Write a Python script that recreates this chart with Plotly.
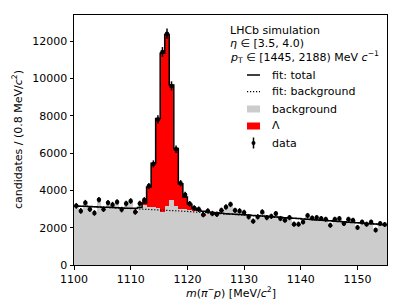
import numpy as np
import plotly.graph_objects as go

# ---- binning ----
bin_low = 1100.0
bin_width = 0.8
n_bins = 69

# ---- data ----
data_counts = [3170, 2900, 3340, 2990, 2790, 3500, 2990, 3340, 3235, 3380,
               2970, 3290, 3430, 2845, 3290, 3480, 4230, 5420, 7800, 11420,
               12400, 9600, 6200, 4380, 3760, 3280, 3060, 2990, 2700, 2900,
               2760, 2720, 2930, 3110, 3250, 2930, 2900, 2810, 2580, 2350,
               2580, 2845, 2540, 2610, 2755, 2490, 2400, 2540, 2190, 2190,
               2310, 2650, 2520, 2540, 2490, 2450, 2130, 2450, 2490, 2220,
               2450, 2400, 2010, 2310, 2190, 2310, 1870, 2220, 2170]
data_errors = [150, 150, 150, 150, 150, 150, 150, 150, 150, 150,
               150, 150, 150, 150, 150, 155, 170, 190, 220, 260,
               275, 245, 200, 170, 160, 150, 148, 146, 145, 145,
               145, 145, 145, 145, 145, 145, 145, 145, 142, 140,
               142, 142, 140, 140, 140, 140, 140, 140, 138, 138,
               138, 140, 138, 138, 138, 138, 135, 138, 138, 135,
               138, 138, 135, 135, 135, 135, 132, 135, 135]
bkg_counts = [3170, 2900, 3340, 2990, 2790, 3500, 2990, 3340, 3235, 3380,
              2970, 3290, 3430, 2835, 3250, 3200, 3120, 3100, 3030, 2860,
              3150, 3480, 3180, 3000, 2980, 2950, 2900, 2880, 2650, 2850,
              2720, 2690, 2910, 3090, 3250, 2930, 2900, 2810, 2580, 2350,
              2580, 2845, 2540, 2610, 2755, 2490, 2400, 2540, 2190, 2190,
              2310, 2650, 2520, 2540, 2490, 2450, 2130, 2450, 2490, 2220,
              2450, 2400, 2010, 2310, 2190, 2310, 1870, 2220, 2170]
sig_counts = [0, 0, 0, 0, 0, 0, 0, 0, 0, 0,
              0, 0, 0, 10, 40, 280, 1110, 2320, 4770, 8560,
              9250, 6120, 3020, 1380, 780, 330, 160, 110, 50, 50,
              40, 30, 20, 20, 0, 0, 0, 0, 0, 0,
              0, 0, 0, 0, 0, 0, 0, 0, 0, 0,
              0, 0, 0, 0, 0, 0, 0, 0, 0, 0,
              0, 0, 0, 0, 0, 0, 0, 0, 0]
fit_bkg = [3165, 3155, 3144, 3133, 3122, 3112, 3101, 3090, 3080, 3069,
           3058, 3048, 3037, 3026, 3016, 3005, 2991, 2977, 2963, 2948,
           2934, 2920, 2906, 2892, 2877, 2863, 2849, 2835, 2821, 2806,
           2792, 2778, 2764, 2750, 2735, 2721, 2707, 2693, 2676, 2659,
           2641, 2624, 2607, 2590, 2573, 2555, 2538, 2521, 2504, 2487,
           2469, 2452, 2435, 2418, 2401, 2383, 2366, 2349, 2332, 2315,
           2297, 2280, 2263, 2246, 2229, 2211, 2194, 2177, 2160]
fit_total = [3165, 3155, 3144, 3133, 3122, 3112, 3101, 3090, 3080, 3069,
             3058, 3048, 3037, 3040, 3080, 3320, 4180, 5450, 7850, 11350,
             12350, 9650, 6250, 4350, 3650, 3250, 3040, 2930, 2875, 2840,
             2815, 2795, 2775, 2750, 2735, 2721, 2707, 2693, 2676, 2659,
             2641, 2624, 2607, 2590, 2573, 2555, 2538, 2521, 2504, 2487,
             2469, 2452, 2435, 2418, 2401, 2383, 2366, 2349, 2332, 2315,
             2297, 2280, 2263, 2246, 2229, 2211, 2194, 2177, 2160]

x_ticks = [1100, 1110, 1120, 1130, 1140, 1150]
y_ticks = [0, 2000, 4000, 6000, 8000, 10000, 12000]

edges = bin_low + bin_width * np.arange(n_bins + 1)
centers = 0.5 * (edges[:-1] + edges[1:])

FONT = "DejaVu Sans"
FS = 11
DOTTED = "1.2px,1.8px"

fig = go.Figure()
fig.add_trace(go.Bar(x=centers, y=bkg_counts, width=bin_width,
                     marker=dict(color="#cccccc", line=dict(width=0)),
                     name="background", showlegend=False))
fig.add_trace(go.Bar(x=centers, y=sig_counts, width=bin_width,
                     marker=dict(color="#ff0000", line=dict(width=0)),
                     name="Λ", showlegend=False))
fig.add_trace(go.Scatter(x=centers, y=fit_bkg, mode="lines",
                         line=dict(color="black", width=1.2, dash=DOTTED),
                         name="fit: background", showlegend=False))
fig.add_trace(go.Scatter(x=edges, y=list(fit_total) + [fit_total[-1]], mode="lines",
                         line=dict(color="black", width=1.5, shape="hv"),
                         name="fit: total", showlegend=False))
fig.add_trace(go.Scatter(x=centers, y=data_counts, mode="markers",
                         marker=dict(color="black", size=4.5),
                         error_y=dict(type="data", array=data_errors, visible=True,
                                      color="black", thickness=1.5, width=0),
                         name="data", showlegend=False))

# ---- page geometry (page has an 8px body margin) ----
BODY = 8
PL, PR, PT, PB = 74, 387, 15, 265   # plot area in page pixels
def px(x):
    return (x - PL) / (PR - PL)
def py(y):
    return (PB - y) / (PB - PT)

ann = []
header = [("LHCb simulation", 30.7),
          ("<i>η</i> ∈ [3.5, 4.0)", 43.0),
          ("<i>p</i><sub>T</sub> ∈ [1445, 2188) MeV <i>c</i><sup>−1</sup>", 57.0)]
for txt, yy in header:
    ann.append(dict(x=px(228), y=py(yy), xref="paper", yref="paper", text=txt,
                    showarrow=False, xanchor="left", yanchor="middle",
                    font=dict(family=FONT, size=FS, color="black")))
entries = [("fit: total", 75.0), ("fit: background", 91.7), ("background", 109.0),
           ("Λ", 126.0), ("data", 143.0)]
for txt, yy in entries:
    ann.append(dict(x=px(270), y=py(yy), xref="paper", yref="paper", text=txt,
                    showarrow=False, xanchor="left", yanchor="middle",
                    font=dict(family=FONT, size=FS, color="black")))

# axis titles placed like matplotlib's
ann.append(dict(x=0.5, y=py(292), xref="paper", yref="paper",
                text="<i>m</i>(<i>π</i><sup>−</sup><i>p</i>) [MeV/<i>c</i><sup>2</sup>]",
                showarrow=False, xanchor="center", yanchor="middle",
                font=dict(family=FONT, size=FS, color="black")))
ann.append(dict(x=px(17), y=0.5, xref="paper", yref="paper",
                text="candidates / (0.8 MeV/<i>c</i><sup>2</sup>)", textangle=-90,
                showarrow=False, xanchor="center", yanchor="middle",
                font=dict(family=FONT, size=FS, color="black")))

shapes = [
    dict(type="line", xref="paper", yref="paper", x0=px(247), x1=px(260),
         y0=py(75), y1=py(75), line=dict(color="black", width=1.5)),
    dict(type="line", xref="paper", yref="paper", x0=px(247), x1=px(260),
         y0=py(91.7), y1=py(91.7), line=dict(color="black", width=1.2, dash=DOTTED)),
    dict(type="rect", xref="paper", yref="paper", x0=px(247), x1=px(260),
         y0=py(112.5), y1=py(105.5), fillcolor="#cccccc", line=dict(width=0)),
    dict(type="rect", xref="paper", yref="paper", x0=px(247), x1=px(260),
         y0=py(129.5), y1=py(122.5), fillcolor="#ff0000", line=dict(width=0)),
    dict(type="line", xref="paper", yref="paper", x0=px(253.5), x1=px(253.5),
         y0=py(137.5), y1=py(148.5), line=dict(color="black", width=1.5)),
    dict(type="circle", xref="paper", yref="paper", x0=px(251.5), x1=px(255.5),
         y0=py(145), y1=py(141), fillcolor="black", line=dict(width=0)),
]

axis_common = dict(showline=True, linecolor="black", linewidth=1, mirror=True,
                   ticks="outside", ticklen=3.5, tickwidth=1, tickcolor="black",
                   showgrid=False, zeroline=False, automargin=False,
                   tickformat="d",
                   tickfont=dict(family=FONT, size=FS, color="black"))

W, H = 407 - BODY, 305 - BODY
fig.update_layout(
    width=W, height=H,
    margin=dict(l=PL - BODY, r=W - (PR - BODY), t=PT - BODY, b=H - (PB - BODY)),
    paper_bgcolor="white", plot_bgcolor="white",
    barmode="stack", bargap=0,
    font=dict(family=FONT, size=FS, color="black"),
    xaxis=dict(range=[bin_low, bin_low + n_bins * bin_width], tickvals=x_ticks,
               **axis_common),
    yaxis=dict(range=[0, 13400], tickvals=y_ticks, **axis_common),
    annotations=ann, shapes=shapes,
)

fig.write_html("out.html")
